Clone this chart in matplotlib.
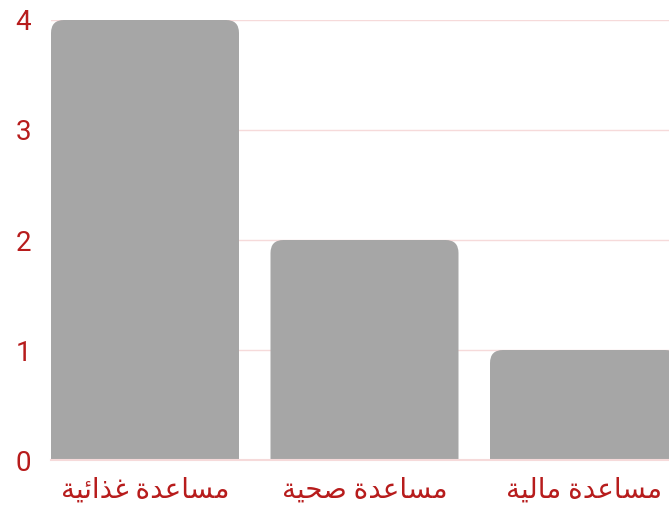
import matplotlib
matplotlib.use('Agg')
import matplotlib.pyplot as plt
from matplotlib.patches import FancyBboxPatch

categories = ['مساعدة غذائية', 'مساعدة صحية', 'مساعدة مالية']
values = [4, 2, 1]
y_ticks = [0, 1, 2, 3, 4]

bar_color = '#a6a6a6'
text_color = '#b71c1c'
grid_color = '#f6dada'

# minimal arabic shaping (matplotlib has no RTL / joining support)
# letter: (isolated, final, initial, medial)
forms = {
    'ا': ('\ufe8d', '\ufe8e', None, None),
    'د': ('\ufea9', '\ufeaa', None, None),
    'ذ': ('\ufeab', '\ufeac', None, None),
    'ة': ('\ufe93', '\ufe94', None, None),
    'م': ('\ufee1', '\ufee2', '\ufee3', '\ufee4'),
    'س': ('\ufeb1', '\ufeb2', '\ufeb3', '\ufeb4'),
    'ع': ('\ufec9', '\ufeca', '\ufecb', '\ufecc'),
    'غ': ('\ufecd', '\ufece', '\ufecf', '\ufed0'),
    'ئ': ('\ufe89', '\ufe8a', '\ufe8b', '\ufe8c'),
    'ي': ('\ufef1', '\ufef2', '\ufef3', '\ufef4'),
    'ص': ('\ufeb9', '\ufeba', '\ufebb', '\ufebc'),
    'ح': ('\ufea1', '\ufea2', '\ufea3', '\ufea4'),
    'ل': ('\ufedd', '\ufede', '\ufedf', '\ufee0'),
}


def shape_arabic(text):
    words = []
    for word in text.split(' '):
        out = []
        for i, ch in enumerate(word):
            iso, fin, ini, med = forms[ch]
            prev = word[i - 1] if i > 0 else None
            nxt = word[i + 1] if i + 1 < len(word) else None
            joins_prev = prev is not None and forms[prev][2] is not None
            joins_next = nxt is not None and ini is not None
            if joins_prev and joins_next:
                out.append(med)
            elif joins_prev:
                out.append(fin)
            elif joins_next:
                out.append(ini)
            else:
                out.append(iso)
        words.append(''.join(out)[::-1])
    return ' '.join(words[::-1])


plt.rcParams['font.family'] = ['Roboto', 'DejaVu Sans']

fig = plt.figure(figsize=(6.69, 5.11), dpi=100)
ax = fig.add_axes([51 / 669, 51 / 511, 618 / 669, 440 / 511])

width = 188 / 219.5
x = list(range(len(categories)))
bars = ax.bar(x, values, width=width, color=bar_color)

# swap plain bars for ones with rounded top corners
for b in bars:
    b.set_visible(False)
    rx = 13 / 219.5
    patch = FancyBboxPatch((b.get_x(), -0.5), b.get_width(), b.get_height() + 0.5,
                           boxstyle='round,pad=0,rounding_size=%f' % rx,
                           mutation_aspect=2.0, facecolor=bar_color,
                           edgecolor='none', zorder=2)
    ax.add_patch(patch)

ax.set_xlim(-width / 2, -width / 2 + 618 / 219.5)
ax.set_ylim(0, 4)
ax.set_yticks(y_ticks)
ax.set_yticklabels([str(t) for t in y_ticks])
ax.set_xticks(x)
ax.set_xticklabels([shape_arabic(c) for c in categories])

ax.grid(axis='y', color=grid_color, linewidth=1)
ax.set_axisbelow(True)
for s in ax.spines.values():
    s.set_visible(False)
ax.axhline(0, color=grid_color, linewidth=1.5, zorder=3, clip_on=False)

ax.tick_params(axis='both', length=0, colors=text_color, labelsize=20)
ax.tick_params(axis='y', pad=20)
ax.tick_params(axis='x', pad=12)
for lbl in ax.get_yticklabels():
    lbl.set_fontsize(20)
    lbl.set_horizontalalignment('center')

fig.savefig('out.png', dpi=100)
